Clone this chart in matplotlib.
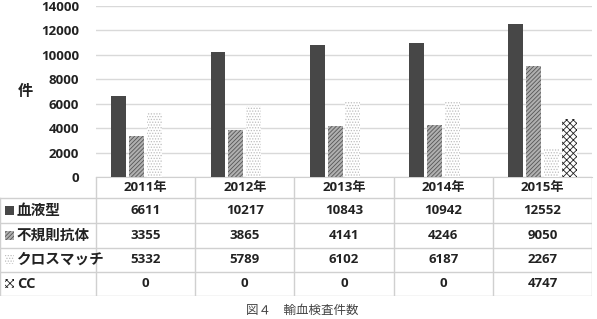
import matplotlib.pyplot as plt
from matplotlib.patches import Rectangle

plt.rcParams['font.family'] = ['Open Sans', 'Noto Sans CJK JP', 'DejaVu Sans']
plt.rcParams['hatch.linewidth'] = 0.6

years = ['2011年', '2012年', '2013年', '2014年', '2015年']
series_names = ['血液型', '不規則抗体', 'クロスマッチ', 'CC']
blood_type = [6611, 10217, 10843, 10942, 12552]
irregular_ab = [3355, 3865, 4141, 4246, 9050]
crossmatch = [5332, 5789, 6102, 6187, 2267]
cc = [0, 0, 0, 0, 4747]
series_values = [blood_type, irregular_ab, crossmatch, cc]

STYLES = [
    dict(facecolor='#474747', edgecolor='#474747', hatch=None),
    dict(facecolor='#b0b0b0', edgecolor='#555555', hatch='////////'),
    dict(facecolor='white', edgecolor='#bdbdbd', hatch='......'),
    dict(facecolor='white', edgecolor='#222222', hatch='xxxxx'),
]
OFFSETS = [-0.27, -0.09, 0.09, 0.27]
TXT = '#222222'

W, H = 597, 319
fig = plt.figure(figsize=(W / 100, H / 100), dpi=100)

# chart area in pixel coords
left_px, right_px, top_px, base_px, table_bottom_px = 96, 592, 6, 177, 296
row_edges = [177, 198, 223, 248, 272, 296]
ax = fig.add_axes([left_px / W, 1 - base_px / H,
                   (right_px - left_px) / W, (base_px - top_px) / H])

x = list(range(len(years)))
for vals, off, st in zip(series_values, OFFSETS, STYLES):
    ax.bar([i + off for i in x], vals, width=0.15, linewidth=0,
           zorder=3, **st)

ax.set_xlim(-0.5, len(years) - 0.5)
ax.set_ylim(0, 14000)
ax.set_yticks(range(0, 14001, 2000))
ax.set_yticklabels([str(v) for v in range(0, 14001, 2000)],
                   fontsize=9.5, fontweight='bold', color=TXT)
ax.set_xticks([])
ax.tick_params(axis='y', length=0, pad=12)
ax.grid(axis='y', color='#d9d9d9', linewidth=1, zorder=0)
for s in ['top', 'right', 'left']:
    ax.spines[s].set_visible(False)
ax.spines['bottom'].set_color('#d0d0d0')
ax.text(25 / W, 1 - 92 / H, '件', transform=fig.transFigure, fontsize=11,
        fontweight='bold', color=TXT, ha='center', va='center')

# data table below the chart (x in category units, y in pixel rows)
unit = (right_px - left_px) / len(years)
tax = fig.add_axes([0, 1 - table_bottom_px / H, right_px / W,
                    (table_bottom_px - base_px) / H])
x0 = -0.5 - left_px / unit
x1 = len(years) - 0.5
tax.set_xlim(x0, x1)
tax.set_ylim(table_bottom_px, base_px)
tax.axis('off')
line_kw = dict(color='#d0d0d0', linewidth=1)
for yy in row_edges[1:]:
    tax.plot([x0, x1], [yy, yy], **line_kw)
tax.plot([x0, x0], [row_edges[1], row_edges[-1]], **line_kw)
for c in range(len(years) + 1):
    tax.plot([c - 0.5, c - 0.5], [row_edges[0], row_edges[-1]], **line_kw)

mid = [(a + b) / 2 for a, b in zip(row_edges[:-1], row_edges[1:])]
for c, yr in enumerate(years):
    tax.text(c, mid[0], yr, ha='center', va='center', fontsize=9.5,
             fontweight='bold', color=TXT)
mk_w = 9 / unit
for r, (name, vals, st) in enumerate(zip(series_names, series_values, STYLES), start=1):
    tax.add_patch(Rectangle((x0 + 5 / unit, mid[r] - 4.5), mk_w, 9,
                            linewidth=0, **st))
    tax.text(x0 + 17 / unit, mid[r], name, ha='left', va='center',
             fontsize=10.5, fontweight='bold', color=TXT)
    for c, v in enumerate(vals):
        tax.text(c, mid[r], str(v), ha='center', va='center', fontsize=9.5,
                 fontweight='bold', color=TXT)

fig.text(302 / W, 1 - 310 / H, '図４　輸血検査件数', ha='center', va='center',
         fontsize=9, color='#444444', family=['Noto Sans CJK JP'])

fig.savefig('out.png', dpi=100)
